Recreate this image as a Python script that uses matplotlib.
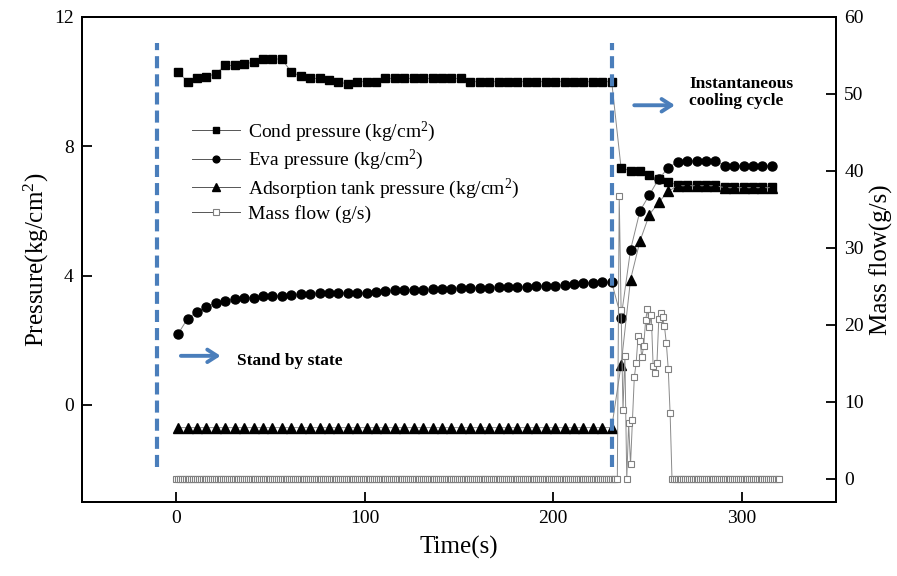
import matplotlib
matplotlib.use("Agg")
import matplotlib.pyplot as plt
import numpy as np

plt.rcParams["font.family"] = ["Liberation Serif", "DejaVu Serif"]
plt.rcParams["mathtext.fontset"] = "custom"
plt.rcParams["mathtext.rm"] = "Liberation Serif"
plt.rcParams["mathtext.it"] = "Liberation Serif:italic"

# pressure samples every 5 s starting at t = 1 s
t_press = np.arange(1, 317, 5)

cond_p = [10.3, 10.0, 10.1, 10.15, 10.25, 10.5, 10.5, 10.55, 10.6, 10.7,
          10.7, 10.7, 10.3, 10.17, 10.1, 10.1, 10.05, 10.0, 9.92, 10.0,
          10.0, 10.0, 10.1, 10.1, 10.1, 10.1, 10.1, 10.1, 10.1, 10.1,
          10.1, 10.0, 10.0, 10.0, 10.0, 10.0, 10.0, 10.0, 10.0, 10.0,
          10.0, 10.0, 10.0, 10.0, 10.0, 10.0, 10.0,
          7.32, 7.25, 7.25, 7.1, 7.0, 6.9, 6.8, 6.8, 6.8, 6.8,
          6.8, 6.75, 6.75, 6.75, 6.75, 6.75, 6.75]

eva_p = [2.2, 2.67, 2.88, 3.04, 3.16, 3.22, 3.29, 3.32, 3.32, 3.38,
         3.38, 3.38, 3.4, 3.42, 3.44, 3.47, 3.47, 3.47, 3.47, 3.47,
         3.47, 3.5, 3.52, 3.55, 3.57, 3.57, 3.57, 3.58, 3.6, 3.6,
         3.62, 3.63, 3.63, 3.63, 3.65, 3.65, 3.65, 3.66, 3.67, 3.69,
         3.69, 3.72, 3.75, 3.78, 3.78, 3.8, 3.8,
         2.7, 4.8, 6.0, 6.5, 7.0, 7.33, 7.53, 7.55, 7.55, 7.55,
         7.55, 7.4, 7.4, 7.4, 7.4, 7.4, 7.4]

ads_p = [-0.7] * 47 + [1.24, 3.88, 5.07, 5.89, 6.27, 6.61, 6.78, 6.78, 6.78,
                       6.78, 6.78, 6.72, 6.72, 6.72, 6.72, 6.72, 6.72]

# mass flow sampled every second; zero outside the transient
t_flow = [235, 236, 237, 238, 239, 240, 241, 242, 243, 244, 245, 246, 247,
          248, 249, 250, 251, 252, 253, 254, 255, 256, 257, 258, 259, 260,
          261, 262]
mass_flow = [36.7, 21.9, 8.9, 16.0, 0.0, 7.2, 1.9, 7.7, 13.2, 15.1, 18.5,
             17.9, 15.8, 17.3, 20.6, 22.1, 19.7, 21.3, 14.6, 13.7, 15.0,
             20.8, 21.5, 21.0, 19.8, 17.6, 14.3, 8.5]

BLUE = "#4a7ebb"
LINE = "#8a8a8a"

fig = plt.figure(figsize=(8.97, 5.76), dpi=100)
ax = fig.add_axes([0.0914, 0.1285, 0.8406, 0.842])
ax2 = ax.twinx()

h1, = ax.plot(t_press, cond_p, color=LINE, lw=0.7, marker="s", ms=5.8,
              mfc="black", mec="black", label="Cond pressure (kg/cm$^2$)")
h2, = ax.plot(t_press, eva_p, color=LINE, lw=0.7, marker="o", ms=6.5,
              mfc="black", mec="black", label="Eva pressure (kg/cm$^2$)")
h3, = ax.plot(t_press, ads_p, color=LINE, lw=0.7, marker="^", ms=7,
              mfc="black", mec="black",
              label="Adsorption tank pressure (kg/cm$^2$)")

# full flow trace (zero - transient - zero) joined in time order
flow_t = np.concatenate([np.arange(0, 235), t_flow, np.arange(263, 321)])
flow_v = np.concatenate([np.zeros(235), mass_flow, np.zeros(58)])
h4, = ax2.plot(flow_t, flow_v, color=LINE, lw=0.7, marker="s", ms=5,
               mfc="white", mec="#808080", mew=0.8, label="Mass flow (g/s)")

# stage separators
ax.plot([-10, -10], [-1.92, 11.2], color=BLUE, lw=3, dashes=(2.9, 1.45))
ax.plot([231, 231], [-1.92, 11.2], color=BLUE, lw=3, dashes=(2.9, 1.45))

arrow = dict(arrowstyle="->,head_length=0.7,head_width=0.45", color=BLUE, lw=2.8)
ax.annotate("", xy=(25, 1.52), xytext=(1, 1.52), arrowprops=arrow)
ax.text(32, 1.36, "Stand by state", fontsize=12.5, fontweight="bold",
        va="center", ha="left")
ax.annotate("", xy=(266, 9.27), xytext=(241.5, 9.27), arrowprops=arrow)
ax.text(272, 9.67, "Instantaneous\ncooling cycle", fontsize=12.5,
        fontweight="bold", va="center", ha="left", linespacing=1.05)

ax.set_xlim(-50, 350)
ax.set_ylim(-3, 12)
ax2.set_ylim(-3, 60)
ax.set_xticks([0, 100, 200, 300])
ax.set_yticks([0, 4, 8, 12])
ax2.set_yticks([0, 10, 20, 30, 40, 50, 60])

for a in (ax, ax2):
    a.tick_params(direction="in", length=7, width=1.3, labelsize=14, pad=6)
    for s in a.spines.values():
        s.set_linewidth(1.4)

ax.set_xlabel("Time(s)", fontsize=18, labelpad=6)
ax.set_ylabel("Pressure(kg/cm$^2$)", fontsize=18, labelpad=2)
ax2.set_ylabel("Mass flow(g/s)", fontsize=18, labelpad=4)

leg = ax2.legend(handles=[h1, h2, h3, h4], loc="upper left",
                 bbox_to_anchor=(0.135, 0.805), frameon=False, fontsize=14,
                 handlelength=2.5, handletextpad=0.4, labelspacing=0.22,
                 borderaxespad=0, markerscale=0.75)
for ln in leg.get_lines():
    ln.set_color("#555555")

fig.savefig("out.png", dpi=100)
